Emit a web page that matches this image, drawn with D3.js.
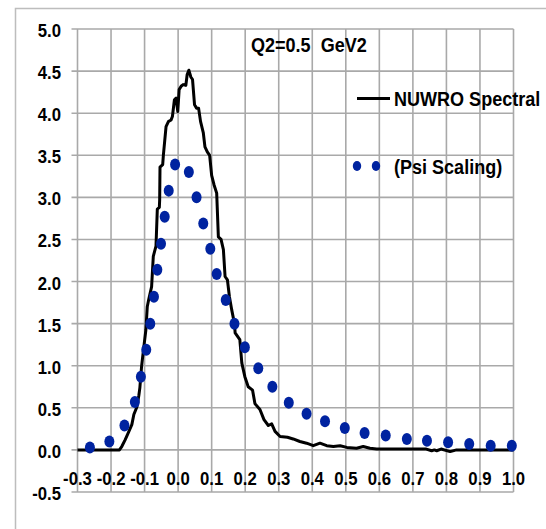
<!DOCTYPE html>
<html>
<head>
<meta charset="utf-8">
<script src="https://cdn.jsdelivr.net/npm/d3@7"></script>
<style>
  html, body { margin: 0; padding: 0; background: #fff; }
  svg text { font-family: "Liberation Sans", Arial, sans-serif; font-weight: bold; fill: #000; }
</style>
</head>
<body>
<svg id="chart" width="546" height="529"></svg>
<script>
// NuWro spectral-function curve (x = psi-like variable, y = response)
const spectralX = [-0.300,-0.175,-0.168,-0.158,-0.149,-0.138,-0.132,-0.123,-0.117,-0.114,-0.109,-0.102,-0.096,-0.092,-0.088,-0.079,-0.074,-0.066,-0.062,-0.056,-0.055,-0.054,-0.046,-0.044,-0.036,-0.029,-0.021,-0.017,-0.011,-0.006,-0.001,0.003,0.009,0.015,0.023,0.027,0.032,0.038,0.043,0.049,0.055,0.061,0.067,0.075,0.080,0.087,0.094,0.100,0.107,0.115,0.120,0.128,0.135,0.140,0.147,0.153,0.160,0.168,0.170,0.184,0.190,0.199,0.209,0.222,0.229,0.244,0.256,0.269,0.279,0.289,0.304,0.326,0.343,0.363,0.383,0.403,0.423,0.443,0.463,0.483,0.503,0.532,0.552,0.572,0.592,0.650,0.740,0.756,0.764,0.771,0.784,0.811,0.830,1.000];
const spectralY = [0,0,0.04,0.12,0.20,0.30,0.42,0.51,0.65,0.74,0.99,1.23,1.43,1.70,1.78,1.94,2.30,2.42,2.86,2.88,2.97,3.36,3.39,3.50,3.84,3.90,3.92,3.96,4.16,4.18,4.02,4.28,4.32,4.34,4.33,4.46,4.51,4.43,4.40,4.10,4.06,4.06,3.90,3.77,3.60,3.54,3.50,3.26,3.15,3.05,2.53,2.50,2.38,2.06,2.02,1.82,1.66,1.50,1.39,1.31,1.03,0.87,0.75,0.71,0.55,0.48,0.36,0.29,0.31,0.22,0.16,0.15,0.13,0.10,0.08,0.05,0.08,0.05,0.04,0.05,0.03,0.02,0.04,0.02,0.01,0.01,0.01,-0.01,0.0,-0.01,0.01,-0.02,0.0,0.0];

// Psi-scaling points
const psiX = [-0.263,-0.205,-0.160,-0.129,-0.111,-0.095,-0.083,-0.072,-0.062,-0.051,-0.040,-0.028,-0.009,0.032,0.055,0.075,0.096,0.115,0.142,0.168,0.199,0.239,0.281,0.330,0.383,0.438,0.497,0.556,0.619,0.682,0.742,0.805,0.868,0.932,0.995];
const psiY = [0.03,0.10,0.29,0.57,0.87,1.19,1.50,1.82,2.14,2.45,2.77,3.08,3.39,3.30,3.00,2.69,2.39,2.09,1.78,1.50,1.22,0.97,0.75,0.56,0.43,0.34,0.26,0.20,0.17,0.13,0.11,0.09,0.07,0.05,0.05];

const xTicks = [-0.3,-0.2,-0.1,0.0,0.1,0.2,0.3,0.4,0.5,0.6,0.7,0.8,0.9,1.0];
const yTicks = [-0.5,0.0,0.5,1.0,1.5,2.0,2.5,3.0,3.5,4.0,4.5,5.0];

const title = "Q2=0.5  GeV2";
const seriesNames = ["NUWRO Spectral", "(Psi Scaling)"];

const svg = d3.select("#chart");
const gridColor = "#a9a9a9";
const dotColor = "#0023a0";
const squeeze = 0.88; // horizontal condensing of the bold face

const x = d3.scaleLinear().domain([-0.3, 1.0]).range([77.5, 513.5]);
const y = d3.scaleLinear().domain([-0.5, 5.0]).range([492, 29]);
const fmt = d => d.toFixed(1);

// condensed label helper: text positioned by a transform so it can be squeezed
function label(sel, px, py, size, anchor, str) {
  return sel.append("text")
    .attr("transform", `translate(${px},${py}) scale(${squeeze},1)`)
    .attr("font-size", size)
    .attr("text-anchor", anchor)
    .attr("xml:space", "preserve")
    .style("white-space", "pre")
    .text(str);
}

// outer chart frame
svg.append("rect")
  .attr("x", 15.5).attr("y", 8.5)
  .attr("width", 620).attr("height", 620)
  .attr("fill", "none").attr("stroke", "#bdbdbd").attr("stroke-width", 1.5);

// gridlines
const grid = svg.append("g").attr("stroke", gridColor).attr("stroke-width", 1.6);
grid.selectAll("line.v").data(xTicks).join("line")
  .attr("class", "v")
  .attr("x1", d => x(d)).attr("x2", d => x(d))
  .attr("y1", y(5.0)).attr("y2", y(-0.5));
grid.selectAll("line.h").data(yTicks).join("line")
  .attr("class", "h")
  .attr("x1", x(-0.3) - 6).attr("x2", x(1.0))
  .attr("y1", d => y(d)).attr("y2", d => y(d));

// y-axis labels
const yLab = svg.append("g");
yTicks.forEach(t => label(yLab, 61, y(t) + 8, 19, "end", fmt(t)));

// x-axis labels (sit below the zero line)
const xLab = svg.append("g");
xTicks.forEach(t => label(xLab, x(t), 485, 19, "middle", fmt(t)));

// spectral curve
const lineData = spectralX.map((v, i) => [v, spectralY[i]]);
svg.append("path")
  .datum(lineData)
  .attr("fill", "none")
  .attr("stroke", "#000")
  .attr("stroke-width", 3)
  .attr("stroke-linejoin", "round")
  .attr("d", d3.line().x(d => x(d[0])).y(d => y(d[1])));

// psi-scaling markers
const psiData = psiX.map((v, i) => [v, psiY[i]]);
svg.append("g").selectAll("ellipse").data(psiData).join("ellipse")
  .attr("cx", d => x(d[0])).attr("cy", d => y(d[1]))
  .attr("rx", 5).attr("ry", 6)
  .attr("fill", dotColor);

// title
label(svg, 251, 52, 20.5, "start", title);

// legend
const legend = svg.append("g");
legend.append("line")
  .attr("x1", 357).attr("x2", 390)
  .attr("y1", 98.5).attr("y2", 98.5)
  .attr("stroke", "#000").attr("stroke-width", 3);
label(legend, 394, 106, 20.5, "start", seriesNames[0]);
legend.selectAll("ellipse").data([357, 376]).join("ellipse")
  .attr("cx", d => d).attr("cy", 166)
  .attr("rx", 4.2).attr("ry", 5)
  .attr("fill", dotColor);
label(legend, 394, 174, 20.5, "start", seriesNames[1]);
</script>
</body>
</html>
